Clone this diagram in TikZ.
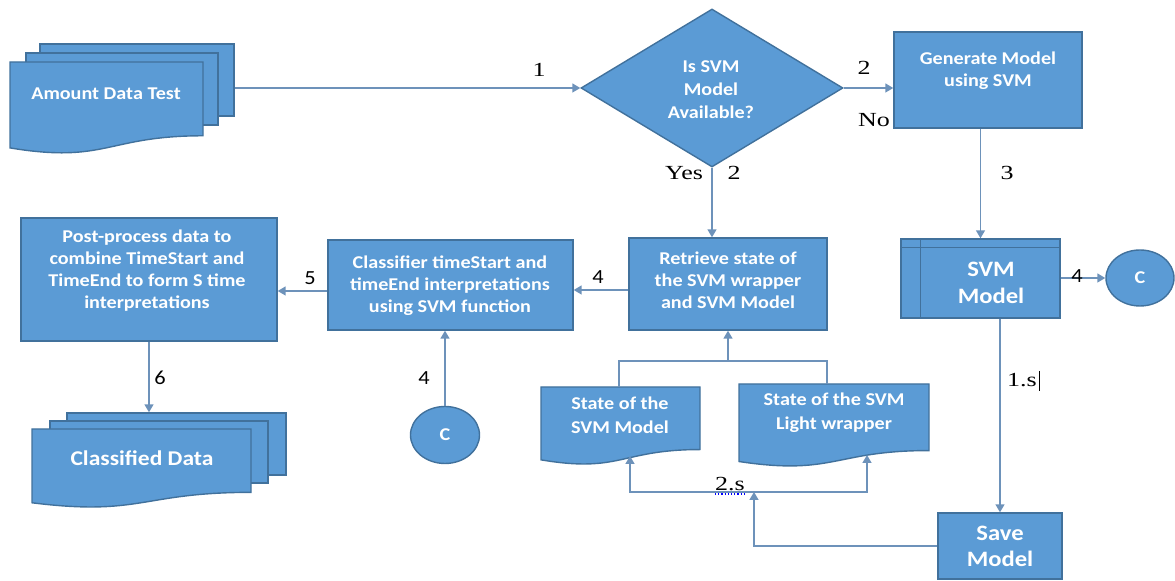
\documentclass[tikz,border=0pt]{standalone}
\usepackage{fontspec}
\setmainfont{Liberation Serif}
\newfontfamily\calibri[FakeStretch=1.12]{Carlito}
\newfontfamily\serifwide[FakeStretch=1.3]{Liberation Serif}
\usetikzlibrary{shapes.geometric,arrows.meta}

\definecolor{boxblue}{HTML}{5B9BD5}
\definecolor{edgeblue}{HTML}{41719C}
\definecolor{linkblue}{HTML}{6D92BA}

\tikzset{
  shapebox/.style={draw=edgeblue, fill=boxblue, line width=0.7pt},
  boxsize/.style 2 args={minimum width=#1*0.5pt, minimum height=#2*0.5pt, inner sep=0pt},
  boxtext/.style={text=white, font=\calibri\bfseries\fontsize{9}{11}\selectfont, align=center, inner sep=0pt},
  bigtext/.style={text=white, font=\calibri\bfseries\fontsize{11}{13.5}\selectfont, align=center, inner sep=0pt},
  link/.style={draw=linkblue, line width=0.75pt},
  tip/.tip={Triangle[length=4pt,width=4.5pt]},
  arr/.style={link, -tip},
  num/.style={font=\serifwide\fontsize{10}{12}\selectfont, inner sep=0pt},
  cnum/.style={font=\calibri\fontsize{10}{12}\selectfont, inner sep=0pt},
}

% document sheet with a wavy bottom edge
\newcommand{\docshape}[4]{%
  \draw[shapebox] (#1,#2) -- (#3,#2) -- (#3,{#2+0.802*#4})
    .. controls ({(#1+#3)/2},{#2+0.802*#4}) and ({(#1+#3)/2},{#2+1.107*#4}) .. (#1,{#2+0.934*#4}) -- cycle;}

\begin{document}
\begin{tikzpicture}[x=0.5pt,y=-0.5pt]
\useasboundingbox (0,0) rectangle (1175,581);

% input data
\node[shapebox, boxsize={194}{72}] (amount3) at (137,80) {};
\node[shapebox, boxsize={192}{72}] (amount2) at (122,89) {};
\docshape{10}{62}{203}{92}
\node[boxtext] (amount) at (106,94) {Amount Data Test};

% decision
\node[shapebox, diamond, minimum width=131pt, minimum height=79pt, inner sep=0pt] (decide) at (712,88) {};
\node[boxtext, font=\calibri\bfseries\fontsize{9}{11.5}\selectfont] (decide-txt) at (711,90) {Is SVM\\Model\\Available?};

\node[shapebox, boxsize={188}{96}] (gen) at (988,80) {};
\node[boxtext] (gen-txt) at (988,70.5) {Generate Model\\using SVM};

\node[shapebox, boxsize={159}{79}] (svm) at (980.5,278.5) {};
\draw[edgeblue, line width=0.7pt] ([xshift=10pt]svm.north west) -- ([xshift=10pt]svm.south west);
\draw[edgeblue, line width=0.7pt] ([yshift=-4.5pt]svm.north west) -- ([yshift=-4.5pt]svm.north east);
\node[bigtext] (svm-txt) at (991,283) {SVM\\Model};

\node[shapebox, ellipse, boxsize={68}{56}, text=white, font=\calibri\bfseries\fontsize{9}{11}\selectfont] (cright) at (1140,278) {C};

\node[shapebox, boxsize={124}{66}] (save) at (1000,546) {};
\node[bigtext, font=\calibri\bfseries\fontsize{11}{13}\selectfont] (save-txt) at (1000,546) {Save\\Model};

\node[shapebox, boxsize={198}{92}] (retr) at (728,284) {};
\node[boxtext] (retr-txt) at (728,280) {Retrieve state of\\the SVM wrapper\\and SVM Model};

\node[shapebox, boxsize={245}{90}] (clas) at (450.5,285) {};
\node[boxtext] (clas-txt) at (450,286) {Classifier timeStart and\\timeEnd interpretations\\using SVM function};

\node[shapebox, boxsize={256}{123}] (post) at (149,279.5) {};
\node[boxtext] (post-txt) at (147,270.5) {Post-process data to\\combine TimeStart and\\TimeEnd to form S time\\interpretations};

\node[shapebox, ellipse, boxsize={69}{57}, text=white, font=\calibri\bfseries\fontsize{9}{11}\selectfont] (cleft) at (445,435) {C};

% output data
\node[shapebox, boxsize={219}{62}] (data3) at (176.5,444) {};
\node[shapebox, boxsize={218}{62}] (data2) at (159,452) {};
\docshape{32}{429}{251}{79}
\node[boxtext, font=\calibri\bfseries\fontsize{10.5}{12}\selectfont] (data) at (142,458) {Classified Data};

% stored states
\docshape{541}{387}{700}{78}
\node[boxtext, font=\calibri\bfseries\fontsize{9}{12}\selectfont] (smodel) at (620,415) {State of the\\SVM Model};
\docshape{739}{384}{929}{83}
\node[boxtext, font=\calibri\bfseries\fontsize{9}{12}\selectfont] (slight) at (834,413) {State of the SVM\\Light wrapper};

\coordinate (smodel-top) at (619,387);
\coordinate (slight-top) at (827,384);
\coordinate (join) at (728,361);
\coordinate (smodel-in) at (630,456);
\coordinate (slight-in) at (867,455);
\coordinate (loop-l) at (630,492);
\coordinate (loop-r) at (867,492);
\coordinate (loop-m) at (754,492);

% connectors
\draw[arr] (amount3.east |- decide.west) -- (decide.west);
\draw[arr] (decide.east) -- (decide.east -| gen.west);
\draw[arr] (svm.north |- gen.south) -- (svm.north);
\draw[arr] (decide.south) -- (decide.south |- retr.north);
\draw[arr] (svm.east |- cright.west) -- (cright.west);
\draw[arr] (save.north |- svm.south) -- (save.north);
\draw[arr] ([yshift=-3pt]retr.west) -- ([yshift=-3pt]retr.west -| clas.east);
\draw[arr] ([yshift=-3pt]clas.west) -- ([yshift=-3pt]clas.west -| post.east);
\draw[arr] (post.south) -- (post.south |- data3.north);
\draw[arr] (cleft.north) -- (cleft.north |- clas.south);
\draw[link] (smodel-top) |- (join) -| (slight-top);
\draw[arr] (join) -- (retr.south);
\draw[link, tip-tip] (smodel-in) -- (loop-l) -- (loop-r) -- (slight-in);
\draw[arr] (save.west) -| (loop-m);

% step numbers
\node[num] (n1) at (539,70) {1};
\node[num] (n2a) at (864,68) {2};
\node[num] (no) at (874,120) {No};
\node[num] (yes) at (684,173) {Yes};
\node[num] (n2b) at (734,173) {2};
\node[num] (n3) at (1007,173) {3};
\node[cnum] (n4a) at (1077,276) {4};
\node[cnum] (n4b) at (598,277) {4};
\node[cnum] (n5) at (310,278) {5};
\node[cnum] (n6) at (160,378) {6};
\node[cnum] (n4c) at (424,378) {4};
\node[num] (n1s) at (1022,380) {1.s};
\draw[black, line width=0.5pt] (1039,371) -- (1039,391);
\node[num] (n2s) at (730,484) {2.s};
\draw[blue, densely dotted, line width=0.6pt] (715,494) -- (745,494);
\end{tikzpicture}
\end{document}
